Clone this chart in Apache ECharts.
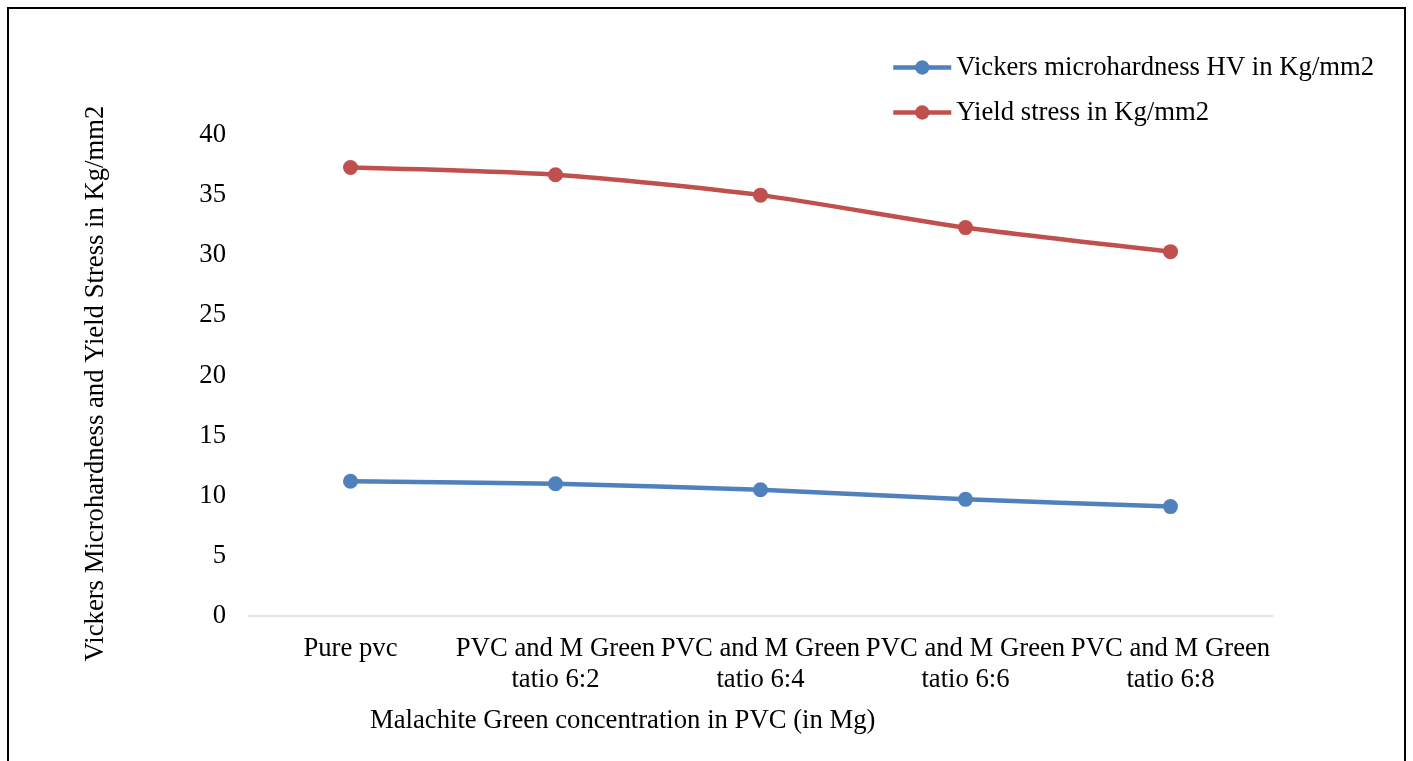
<!DOCTYPE html>
<html lang="en">
<head>
    <meta charset="UTF-8">
    <title>Vickers Microhardness and Yield Stress</title>
    <script src="https://cdn.jsdelivr.net/npm/echarts@6/dist/echarts.min.js"></script>
    <style>
        html, body {
            margin: 0;
            padding: 0;
            background: #fff;
        }
        #main {
            width: 1413px;
            height: 761px;
        }
    </style>
</head>
<body>
<div id="main"></div>
<script>
    var categories = ['Pure pvc', 'PVC and M Green\ntatio 6:2', 'PVC and M Green\ntatio 6:4',
        'PVC and M Green\ntatio 6:6', 'PVC and M Green\ntatio 6:8'];
    var hardness = [11.2, 11.0, 10.5, 9.7, 9.1];
    var yieldStress = [37.3, 36.7, 35.0, 32.3, 30.3];
    var yTicks = [0, 5, 10, 15, 20, 25, 30, 35, 40];

    var font = '"Liberation Serif", "Times New Roman", serif';
    var fs = 26.7;
    var myChart = echarts.init(document.getElementById('main'));
    var option = {
        animation: false,
        backgroundColor: '#fff',
        textStyle: {fontFamily: font, color: '#000'},
        legend: {
            orient: 'vertical',
            left: 891,
            top: 54,
            padding: 0,
            itemWidth: 58,
            itemHeight: 18,
            itemGap: 18,
            lineStyle: {width: 4.5},
            textStyle: {fontFamily: font, fontSize: fs, color: '#000'},
            data: ['Vickers microhardness HV in Kg/mm2', 'Yield stress in Kg/mm2']
        },
        grid: {left: 248, right: 140, top: 135, bottom: 145, containLabel: false},
        xAxis: {
            type: 'category',
            data: categories,
            boundaryGap: true,
            axisLine: {lineStyle: {color: '#d9d9d9', width: 1.5}},
            axisTick: {show: false},
            axisLabel: {
                interval: 0,
                margin: 17,
                fontFamily: font,
                fontSize: fs,
                lineHeight: 31,
                color: '#000'
            }
        },
        yAxis: {
            type: 'value',
            min: yTicks[0],
            max: yTicks[yTicks.length - 1],
            interval: 5,
            name: 'Vickers Microhardness and Yield Stress in Kg/mm2',
            nameLocation: 'middle',
            nameGap: 139,
            nameTextStyle: {fontFamily: font, fontSize: fs, color: '#000', padding: [0, 16, 0, 0]},
            axisLine: {show: false},
            axisTick: {show: false},
            splitLine: {show: false},
            axisLabel: {margin: 22, fontFamily: font, fontSize: fs, color: '#000'}
        },
        graphic: [
            {
                type: 'rect',
                shape: {x: 8, y: 8, width: 1397, height: 780},
                style: {fill: 'none', stroke: '#000', lineWidth: 2},
                silent: true
            },
            {
                type: 'text',
                left: 370,
                top: 707,
                style: {
                    text: 'Malachite Green concentration in PVC (in Mg)',
                    font: fs + 'px ' + font,
                    fill: '#000'
                }
            }
        ],
        series: [
            {
                name: 'Vickers microhardness HV in Kg/mm2',
                type: 'line',
                data: hardness,
                smooth: 0.25,
                symbol: 'circle',
                symbolSize: 15,
                itemStyle: {color: '#4f81bd'},
                lineStyle: {color: '#4f81bd', width: 4.5}
            },
            {
                name: 'Yield stress in Kg/mm2',
                type: 'line',
                data: yieldStress,
                smooth: 0.25,
                symbol: 'circle',
                symbolSize: 15,
                itemStyle: {color: '#c0504d'},
                lineStyle: {color: '#c0504d', width: 4.5}
            }
        ]
    };
    myChart.setOption(option);
</script>
</body>
</html>
